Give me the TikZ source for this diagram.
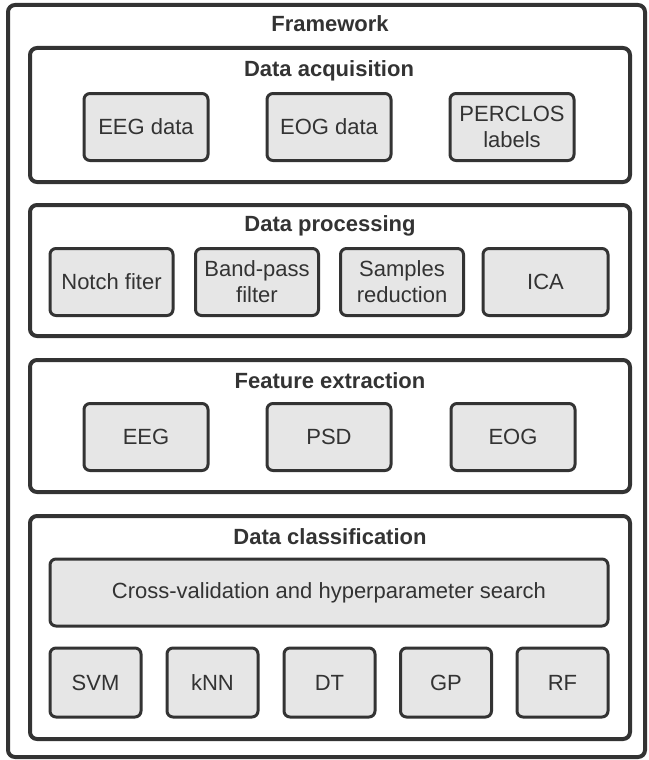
\documentclass[tikz,border=0pt]{standalone}
\usepackage{fontspec}
\setmainfont{Liberation Sans}
\definecolor{edgegray}{HTML}{333333}
\definecolor{boxgray}{HTML}{E6E6E6}

\begin{document}
\begin{tikzpicture}[x=1pt,y=-1pt,
        frame/.style={draw=edgegray,line width=4pt,rounded corners=7pt,inner sep=0pt},
        item/.style={draw=edgegray,fill=boxgray,line width=3pt,rounded corners=6pt,
            minimum height=67pt,inner sep=0pt,align=center,text=edgegray,
            font=\fontsize{22}{26}\selectfont},
        title/.style={text=edgegray,font=\fontsize{22}{26}\selectfont\bfseries}]

        \useasboundingbox (0,0) rectangle (648,760);

        % frames
        \node [frame,minimum width=637pt,minimum height=752pt] (fw) at (326.5,381) {};
        \node [frame,minimum width=600pt,minimum height=134pt] (acq) at (330,115) {};
        \node [frame,minimum width=600pt,minimum height=131pt] (proc) at (330,270.5) {};
        \node [frame,minimum width=600pt,minimum height=132pt] (feat) at (330,426) {};
        \node [frame,minimum width=600pt,minimum height=223pt] (cls) at (330,627.5) {};

        % titles
        \node [title] (fwt) at (330,24) {Framework};
        \node [title] (acqt) at (329,71) {Data acquisition};
        \node [title] (proct) at (330,226) {Data processing};
        \node [title] (featt) at (330,381) {Feature extraction};
        \node [title] (clst) at (330,537) {Data classification};

        % data acquisition
        \node [item,minimum width=124pt] (a1) at (146,127) {EEG data};
        \node [item,minimum width=124pt] (a2) at (329,127) {EOG data};
        \node [item,minimum width=124pt] (a3) at (512,127) {PERCLOS\\labels};

        % data processing
        \node [item,minimum width=123pt] (p1) at (111.5,282) {Notch fiter};
        \node [item,minimum width=123pt] (p2) at (257,282) {Band-pass\\filter};
        \node [item,minimum width=123pt] (p3) at (402,282) {Samples\\reduction};
        \node [item,minimum width=125pt] (p4) at (545.5,282) {ICA};

        % feature extraction
        \node [item,minimum width=124pt] (f1) at (146,437) {EEG};
        \node [item,minimum width=124pt] (f2) at (329,437) {PSD};
        \node [item,minimum width=124pt] (f3) at (513,437) {EOG};

        % data classification
        \node [item,minimum width=558pt] (cv) at (329,592.5) {Cross-validation and hyperparameter search};
        \node [item,minimum width=91pt,minimum height=69pt] (c1) at (95.5,682.5) {SVM};
        \node [item,minimum width=91pt,minimum height=69pt] (c2) at (212.5,682.5) {kNN};
        \node [item,minimum width=91pt,minimum height=69pt] (c3) at (329.5,682.5) {DT};
        \node [item,minimum width=91pt,minimum height=69pt] (c4) at (446,682.5) {GP};
        \node [item,minimum width=91pt,minimum height=69pt] (c5) at (562.5,682.5) {RF};
    \end{tikzpicture}
\end{document}
